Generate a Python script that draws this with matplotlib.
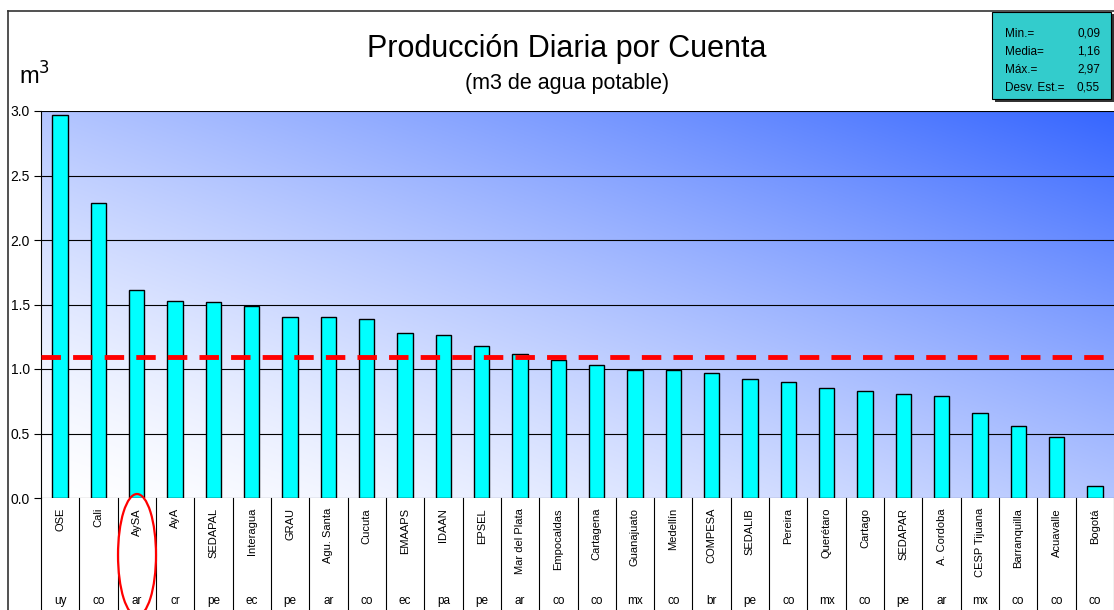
import numpy as np
import matplotlib.pyplot as plt
from matplotlib.patches import Ellipse, Rectangle
from matplotlib.lines import Line2D
import matplotlib.transforms as mtransforms

plt.rcParams['font.family'] = ['Liberation Sans', 'DejaVu Sans']

names = ["OSE", "Cali", "AySA", "AyA", "SEDAPAL", "Interagua", "GRAU", "Agu. Santa",
         "Cucuta", "EMAAPS", "IDAAN", "EPSEL", "Mar del Plata", "Empocaldas",
         "Cartagena", "Guanajuato", "Medellín", "COMPESA", "SEDALIB", "Pereira",
         "Querétaro", "Cartago", "SEDAPAR", "A. Cordoba", "CESP Tijuana",
         "Barranquilla", "Acuavalle", "Bogotá"]
countries = ["uy", "co", "ar", "cr", "pe", "ec", "pe", "ar", "co", "ec", "pa", "pe",
             "ar", "co", "co", "mx", "co", "br", "pe", "co", "mx", "co", "pe", "ar",
             "mx", "co", "co", "co"]
values = [2.97, 2.29, 1.61, 1.53, 1.52, 1.49, 1.40, 1.40, 1.39, 1.28, 1.26, 1.18,
          1.12, 1.07, 1.03, 0.99, 0.99, 0.97, 0.92, 0.90, 0.85, 0.83, 0.81, 0.79,
          0.66, 0.56, 0.47, 0.09]
avg_line = 1.09
stats = [("Min.=", "0,09"), ("Media=", "1,16"), ("Máx.=", "2,97"), ("Desv. Est.=", "0,55")]
yticks = [0.0, 0.5, 1.0, 1.5, 2.0, 2.5, 3.0]

W, H = 1114, 610
fig = plt.figure(figsize=(W / 100, H / 100), dpi=100)

left, top, bottom = 41, 111, 498
ax = fig.add_axes([left / W, 1 - bottom / H, (W - left) / W, (bottom - top) / H])

n = len(names)
x = np.arange(n)

# diagonal gradient background: white bottom-left -> blue top-right
gx, gy = np.meshgrid(np.linspace(0, 1, 300), np.linspace(0, 1, 200))
t = ((gx + gy) / 2) ** 1.4
c0 = np.array([1.0, 1.0, 1.0])
c1 = np.array([0x36, 0x66, 0xFF]) / 255
img = c0 + (c1 - c0) * t[..., None]
ax.imshow(img, extent=[0, 1, 0, 1], transform=ax.transAxes, origin='lower',
          aspect='auto', zorder=0)

ax.set_xlim(-0.5, n - 0.5)
ax.set_ylim(0, 3.0)
for yv in yticks:
    ax.axhline(yv, color='black', lw=0.8, zorder=1)

ax.bar(x, values, width=0.4, color='#00FFFF', edgecolor='black', linewidth=1.0, zorder=2)
ax.axhline(avg_line, color='#FF0000', lw=3.5, dashes=(4, 2.5), zorder=3)

ax.set_yticks(yticks)
ax.set_yticklabels([f"{v:.1f}" for v in yticks], fontsize=10)
ax.tick_params(axis='y', length=5, width=0.8, pad=3)
ax.set_xticks([])
for s in ['top', 'right', 'bottom']:
    ax.spines[s].set_visible(False)
ax.spines['left'].set_linewidth(0.8)

# category table below the axes
trans = mtransforms.blended_transform_factory(ax.transData, ax.transAxes)
tbl_bottom = -(H - bottom) / (bottom - top)
for i in range(n + 1):
    ax.plot([i - 0.5, i - 0.5], [0, tbl_bottom], color='black', lw=0.8,
            transform=trans, clip_on=False)
for i in range(n):
    ax.text(i, -10 / (bottom - top), names[i], rotation=90, ha='center', va='top',
            fontsize=8, transform=trans)
    ax.text(i, -103 / (bottom - top), countries[i], ha='center', va='center',
            fontsize=8.5, transform=trans)

# highlight ellipse around AySA
fig.add_artist(Ellipse((137 / W, 1 - 555 / H), 38 / W, 122 / H, transform=fig.transFigure,
                       fill=False, ec='#FF0000', lw=1.6))

# outer frame
fig.add_artist(Line2D([8 / W, 8 / W], [0, 1 - 11 / H], color='#333333', lw=1.2))
fig.add_artist(Line2D([8 / W, 1], [1 - 11 / H, 1 - 11 / H], color='#333333', lw=1.2))

# titles
fig.text(567 / W, 1 - 49 / H, "Producción Diaria por Cuenta", ha='center', va='center',
         fontsize=22)
fig.text(567 / W, 1 - 84 / H, "(m3 de agua potable)", ha='center', va='center',
         fontsize=15.5)
fig.text(19 / W, 1 - 76 / H, "m$^3$", ha='left', va='center', fontsize=17)

# statistics box
fig.add_artist(Rectangle((995 / W, 1 - 102 / H), 119 / W, 88 / H, transform=fig.transFigure,
                         facecolor='#333333', edgecolor='none'))
fig.add_artist(Rectangle((992 / W, 1 - 99 / H), 119 / W, 87 / H, transform=fig.transFigure,
                         facecolor='#33CCCC', edgecolor='black', lw=0.8))
for k, (lab, val) in enumerate(stats):
    yy = 1 - (34 + 18 * k) / H
    fig.text(1005 / W, yy, lab, ha='left', va='center', fontsize=8.5)
    fig.text(1100 / W, yy, val, ha='right', va='center', fontsize=8.5)

fig.savefig("out.png", dpi=100)
